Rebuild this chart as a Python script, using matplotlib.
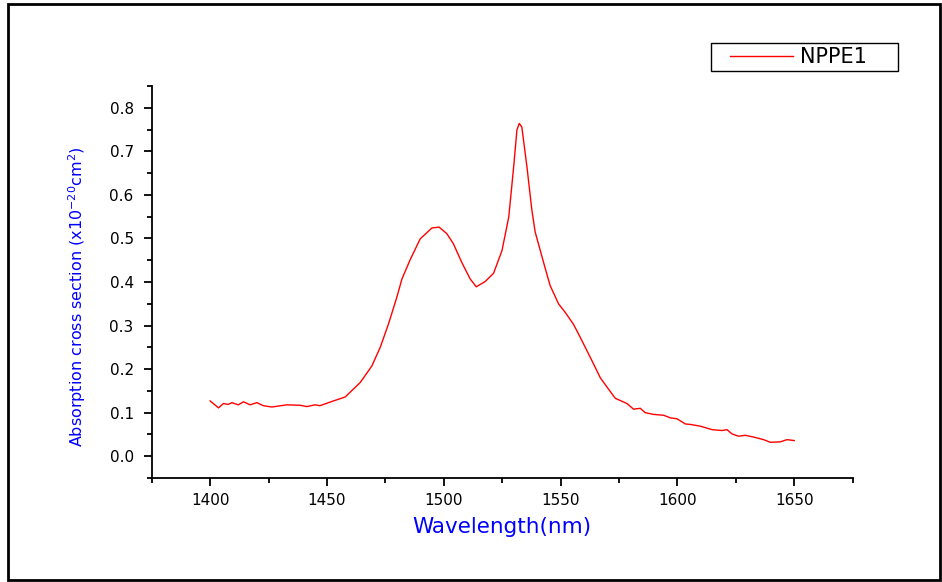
import matplotlib
matplotlib.use("Agg")
import matplotlib.pyplot as plt
from matplotlib.patches import Rectangle
from matplotlib.ticker import MultipleLocator
from matplotlib.legend_handler import HandlerLine2D

# wavelength (nm) and absorption cross section (x1e-20 cm^2)
wl = [1400.0, 1403.6, 1405.7, 1407.8, 1409.3, 1412.1, 1414.3, 1417.1, 1420.0, 1422.8,
      1426.4, 1432.8, 1438.5, 1441.4, 1444.9, 1447.0, 1452.8, 1457.8, 1464.2, 1469.2,
      1472.8, 1476.3, 1479.9, 1482.1, 1485.6, 1489.9, 1494.9, 1498.0, 1501.3, 1504.1,
      1507.7, 1511.3, 1513.9, 1517.7, 1521.3, 1524.9, 1527.8, 1529.9, 1531.3, 1532.3,
      1533.4, 1535.6, 1537.7, 1539.1, 1542.7, 1545.5, 1549.1, 1552.0, 1555.5, 1558.4,
      1562.7, 1567.0, 1570.5, 1573.4, 1578.4, 1581.2, 1584.1, 1586.2, 1589.8, 1594.1,
      1597.0, 1599.8, 1603.4, 1605.5, 1609.8, 1614.8, 1619.1, 1621.2, 1623.4, 1626.2,
      1629.1, 1632.6, 1636.9, 1639.7, 1644.0, 1646.9, 1650.0]
sigma = [0.127, 0.111, 0.121, 0.119, 0.123, 0.118, 0.125, 0.118, 0.123, 0.116,
         0.113, 0.118, 0.117, 0.114, 0.118, 0.116, 0.127, 0.136, 0.169, 0.207,
         0.250, 0.303, 0.365, 0.407, 0.451, 0.499, 0.524, 0.526, 0.511, 0.488,
         0.445, 0.407, 0.389, 0.401, 0.420, 0.472, 0.549, 0.664, 0.749, 0.764,
         0.756, 0.664, 0.565, 0.515, 0.445, 0.392, 0.350, 0.330, 0.303, 0.273,
         0.227, 0.180, 0.154, 0.133, 0.121, 0.108, 0.110, 0.100, 0.096, 0.094,
         0.088, 0.086, 0.074, 0.073, 0.069, 0.061, 0.059, 0.061, 0.051, 0.046,
         0.048, 0.044, 0.038, 0.032, 0.033, 0.038, 0.036]

plt.rcParams['font.family'] = ['DejaVu Sans']
plt.rcParams['mathtext.default'] = 'regular'

fig = plt.figure(figsize=(9.42, 5.82), dpi=100)
ax = fig.add_axes([151.7/942, 1-478/582, (852.7-151.7)/942, (478-86)/582])

line, = ax.plot(wl, sigma, color='red', linewidth=1.0, label='NPPE1')

ax.set_xlim(1375, 1675)
ax.set_ylim(-0.05, 0.85)
ax.xaxis.set_minor_locator(MultipleLocator(25))
ax.yaxis.set_minor_locator(MultipleLocator(0.05))
ax.set_xticks([1400, 1450, 1500, 1550, 1600, 1650])
ax.set_yticks([0.0, 0.1, 0.2, 0.3, 0.4, 0.5, 0.6, 0.7, 0.8])
ax.set_yticklabels(['%.1f' % v for v in ax.get_yticks()])

for s in ['top', 'right']:
    ax.spines[s].set_visible(False)
for s in ['left', 'bottom']:
    ax.spines[s].set_linewidth(1.3)
ax.tick_params(which='major', direction='out', length=6, width=1.3, labelsize=11)
ax.tick_params(axis='x', which='major', pad=5)
ax.tick_params(axis='y', which='major', pad=7)
ax.tick_params(which='minor', direction='out', length=3.5, width=1.3)

ax.set_xlabel('Wavelength(nm)', color='blue', fontsize=15.5, labelpad=6)
ax.set_ylabel('Absorption cross section (x10$^{-20}$cm$^{2}$)', color='blue', fontsize=11.5)
ax.yaxis.set_label_coords(-0.091, 0.462)

leg = fig.legend(handles=[line], labels=['NPPE1    '], loc='upper right',
                 bbox_to_anchor=(898/942, 1-43/582), borderaxespad=0,
                 fancybox=False, edgecolor='black', framealpha=1,
                 fontsize=15, handlelength=3.74, handletextpad=0.34,
                 borderpad=0.2,
                 handler_map={line: HandlerLine2D(xpad=0.71)})
leg.get_frame().set_linewidth(1.0)

# outer frame around the whole picture
fig.patches.append(Rectangle((8/942, 2/582), 932/942, 576/582, transform=fig.transFigure,
                             fill=False, edgecolor='black', linewidth=2.0))

fig.savefig('out.png', dpi=100)
